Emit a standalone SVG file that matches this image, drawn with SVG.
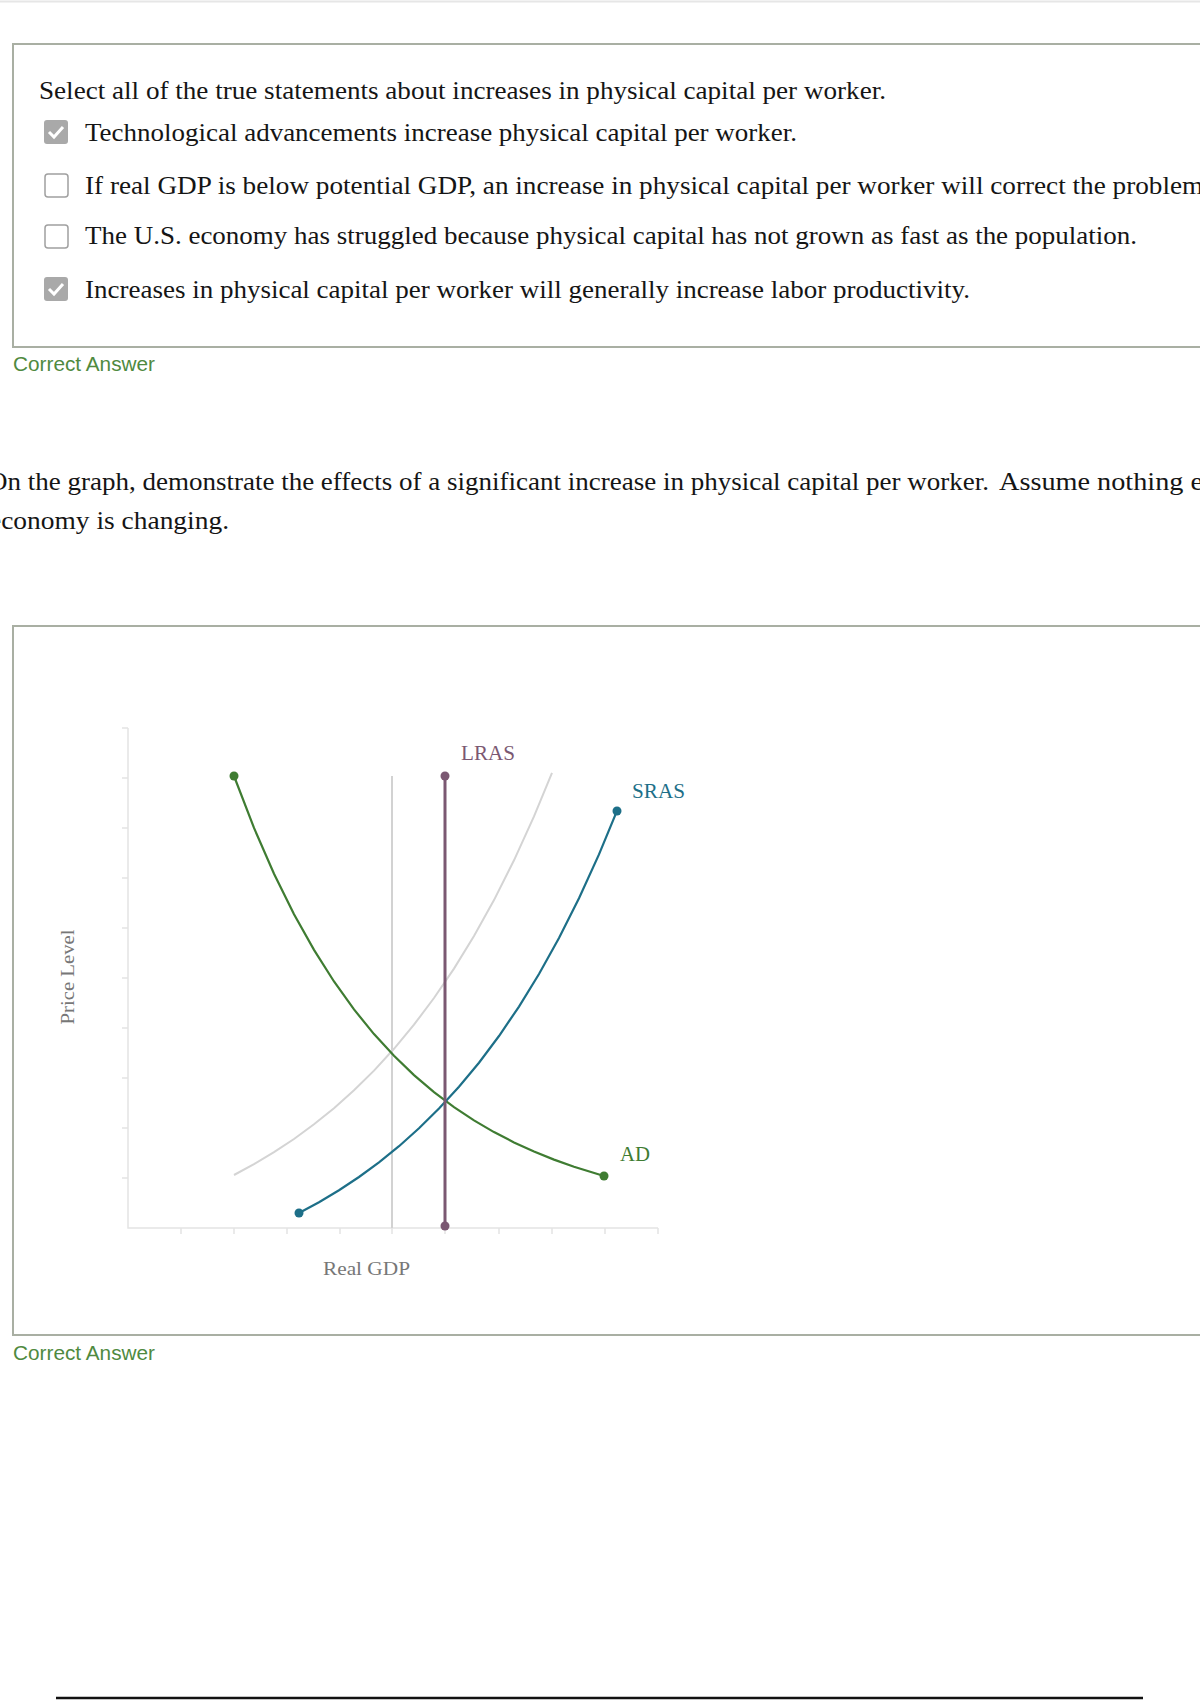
<svg xmlns="http://www.w3.org/2000/svg" width="1200" height="1700" viewBox="0 0 1200 1700">
<style>
.q{font-family:"Liberation Serif","Times New Roman",serif;font-size:25px;fill:#151515}
.ca{font-family:"Liberation Sans",Arial,sans-serif;font-size:19.5px;fill:#4f8a3f}
.box{fill:#fff;stroke:#a9afa3;stroke-width:2}
.axis{stroke:#e4e4e4;stroke-width:1.5;fill:none}
.lbl{font-family:"Liberation Serif","Times New Roman",serif;font-size:20px}
.ax{font-family:"Liberation Serif","Times New Roman",serif;font-size:18px;fill:#777}
</style>
<rect width="1200" height="1700" fill="#fff"/>
<line x1="0" y1="1.5" x2="1200" y2="1.5" stroke="#e6e6e6" stroke-width="2"/>

<g id="question1">
<rect class="box" x="13" y="44" width="1200" height="303"/>
<text class="q" x="39" y="99" fill="#333" textLength="847" lengthAdjust="spacingAndGlyphs">Select all of the true statements about increases in physical capital per worker.</text>
<g id="opt1">
<rect x="44" y="120" width="24" height="24" rx="3" fill="#a9a9a9"/>
<path d="M49 132 l5 5 l9 -10" stroke="#fff" stroke-width="3" fill="none"/>
<text class="q" x="85" y="141" textLength="712" lengthAdjust="spacingAndGlyphs">Technological advancements increase physical capital per worker.</text>
</g>
<g id="opt2">
<rect x="45" y="174" width="23" height="23" rx="3" fill="#fff" stroke="#a0a0a0" stroke-width="1.5"/>
<text class="q" x="85" y="194" textLength="1125" lengthAdjust="spacingAndGlyphs">If real GDP is below potential GDP, an increase in physical capital per worker will correct the problem.</text>
</g>
<g id="opt3">
<rect x="45" y="225" width="23" height="23" rx="3" fill="#fff" stroke="#a0a0a0" stroke-width="1.5"/>
<text class="q" x="85" y="244" textLength="1052" lengthAdjust="spacingAndGlyphs">The U.S. economy has struggled because physical capital has not grown as fast as the population.</text>
</g>
<g id="opt4">
<rect x="44" y="277" width="24" height="24" rx="3" fill="#a9a9a9"/>
<path d="M49 289 l5 5 l9 -10" stroke="#fff" stroke-width="3" fill="none"/>
<text class="q" x="85" y="298" textLength="885" lengthAdjust="spacingAndGlyphs">Increases in physical capital per worker will generally increase labor productivity.</text>
</g>
</g>
<text class="ca" x="13" y="371" textLength="142" lengthAdjust="spacingAndGlyphs">Correct Answer</text>

<g id="question2">
<text class="q" x="-12" y="490" textLength="1001" lengthAdjust="spacingAndGlyphs">On the graph, demonstrate the effects of a significant increase in physical capital per worker.</text>
<text class="q" x="999" y="490" textLength="306" lengthAdjust="spacingAndGlyphs">Assume nothing else in the</text>
<text class="q" x="-11" y="529" textLength="240" lengthAdjust="spacingAndGlyphs">economy is changing.</text>
</g>

<g id="graphbox">
<rect class="box" x="13" y="626" width="1200" height="709"/>
</g>

<g id="axes">
<path class="axis" d="M128 728 V1228 H658"/>
<path class="axis" d="M122 728 H128 M122 778 H128 M122 828 H128 M122 878 H128 M122 928 H128 M122 978 H128 M122 1028 H128 M122 1078 H128 M122 1128 H128 M122 1178 H128"/>
<path class="axis" d="M181 1228 V1234 M234 1228 V1234 M287 1228 V1234 M340 1228 V1234 M392 1228 V1234 M445 1228 V1234 M499 1228 V1234 M552 1228 V1234 M605 1228 V1234 M658 1228 V1234"/>
<text class="ax" transform="translate(74 977) rotate(-90)" text-anchor="middle" textLength="95" lengthAdjust="spacingAndGlyphs">Price Level</text>
<text class="ax" x="323" y="1275" textLength="87" lengthAdjust="spacingAndGlyphs">Real GDP</text>
</g>

<g id="connectors">
<line id="old-lras" x1="392" y1="776" x2="392" y2="1228" stroke="#d2d2d2" stroke-width="2"/>
<polyline id="old-sras" fill="none" stroke="#d4d4d4" stroke-width="2" points="234,1175 254,1164.2 274,1152.2 294,1139 314,1124.3 334,1108.2 354,1090.3 374,1070.6 394,1048.8 414,1024.7 434,998 454,968.6 474,936 494,900.1 514,860.3 534,816.4 552,772.9"/>
</g>

<g id="AD">
<polyline fill="none" stroke="#3f7c32" stroke-width="2.2" points="234,776 254,827.9 274,873.7 294,914.2 314,949.9 334,981.5 354,1009.4 374,1034.1 394,1055.8 414,1075.1 434,1092.1 454,1107.1 474,1120.4 494,1132.1 514,1142.4 534,1151.6 554,1159.6 574,1166.8 604,1176"/>
<circle cx="234" cy="776" r="4.5" fill="#3f7c32"/>
<circle cx="604" cy="1176" r="4.5" fill="#3f7c32"/>
<text class="lbl" x="620" y="1161" fill="#3f7c32" textLength="30" lengthAdjust="spacingAndGlyphs">AD</text>
</g>

<g id="SRAS">
<polyline fill="none" stroke="#1d6f88" stroke-width="2.2" points="299,1213 319,1202.2 339,1190.2 359,1177 379,1162.3 399,1146.2 419,1128.3 439,1108.6 459,1086.8 479,1062.7 499,1036 519,1006.6 539,974 559,938.1 579,898.3 599,854.4 617,810.9"/>
<circle cx="299" cy="1213" r="4.5" fill="#1d6f88"/>
<circle cx="617" cy="811" r="4.5" fill="#1d6f88"/>
<text class="lbl" x="632" y="798" fill="#1d6f88" textLength="53" lengthAdjust="spacingAndGlyphs">SRAS</text>
</g>

<g id="LRAS">
<line x1="445" y1="776" x2="445" y2="1226" stroke="#7b5872" stroke-width="3"/>
<circle cx="445" cy="776" r="4.5" fill="#7b5872"/>
<circle cx="445" cy="1226" r="4.5" fill="#7b5872"/>
<text class="lbl" x="461" y="760" fill="#7b5872" textLength="54" lengthAdjust="spacingAndGlyphs">LRAS</text>
</g>

<text class="ca" x="13" y="1360" textLength="142" lengthAdjust="spacingAndGlyphs">Correct Answer</text>
<line x1="56" y1="1698" x2="1143" y2="1698" stroke="#111" stroke-width="2.5"/>
</svg>
